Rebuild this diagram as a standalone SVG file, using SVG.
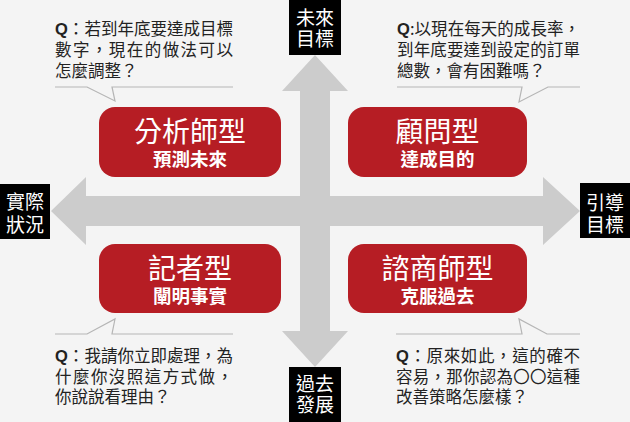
<svg xmlns="http://www.w3.org/2000/svg" width="630" height="422" viewBox="0 0 630 422">
<style>
.bg{fill:#f4f4f4}
.arr{fill:#cccccc}
.lbl{fill:#000}
.lt{fill:#fff;font-family:"Noto Sans CJK TC","Noto Sans CJK SC",sans-serif;font-size:19px;text-anchor:middle}
.box{fill:#b61d24}
.ttl{fill:#fff;font-family:"Noto Sans CJK TC","Noto Sans CJK SC",sans-serif;font-size:28px;text-anchor:middle}
.sub{fill:#fff;font-family:"Noto Sans CJK TC","Noto Sans CJK SC",sans-serif;font-size:18.5px;font-weight:bold;text-anchor:middle}
.q{fill:#222;font-family:"Noto Sans CJK TC","Noto Sans CJK SC",sans-serif;font-size:16.5px}
.qb{font-family:"Liberation Sans","Noto Sans CJK TC",sans-serif;font-weight:bold}
.tail{fill:none;stroke:#b5b5b5;stroke-width:1.2}
</style>
<rect class="bg" x="0" y="0" width="630" height="422"/>
<g id="connectors">
<path class="arr" d="M315,55 L348,91 L330,91 L330,331 L348,331 L315,367 L282,331 L300,331 L300,91 L282,91 Z"/>
<path class="arr" d="M51,211 L86,177 L86,196 L543,196 L543,177 L580,211 L543,245 L543,226 L86,226 L86,245 Z"/>
</g>
<g id="label-future">
<rect class="lbl" x="289" y="0" width="52" height="55"/>
<text class="lt" x="315" y="25">未來</text>
<text class="lt" x="315" y="46">目標</text>
</g>
<g id="label-past">
<rect class="lbl" x="289" y="367" width="52" height="55"/>
<text class="lt" x="315" y="391">過去</text>
<text class="lt" x="315" y="412">發展</text>
</g>
<g id="label-actual">
<rect class="lbl" x="0" y="184" width="50" height="55"/>
<text class="lt" x="25" y="209">實際</text>
<text class="lt" x="25" y="232">狀況</text>
</g>
<g id="label-guide">
<rect class="lbl" x="580" y="183" width="50" height="55"/>
<text class="lt" x="605" y="210">引導</text>
<text class="lt" x="605" y="232">目標</text>
</g>
<g id="node-analyst">
<rect class="box" x="99" y="107" width="182" height="70" rx="16"/>
<text class="ttl" x="190" y="142">分析師型</text>
<text class="sub" x="190" y="166">預測未來</text>
</g>
<g id="node-consultant">
<rect class="box" x="348" y="107" width="179" height="70" rx="16"/>
<text class="ttl" x="437.5" y="142">顧問型</text>
<text class="sub" x="437.5" y="166">達成目的</text>
</g>
<g id="node-reporter">
<rect class="box" x="99" y="244" width="182" height="69" rx="16"/>
<text class="ttl" x="190" y="279">記者型</text>
<text class="sub" x="190" y="303">闡明事實</text>
</g>
<g id="node-counselor">
<rect class="box" x="348" y="244" width="179" height="69" rx="16"/>
<text class="ttl" x="437.5" y="279">諮商師型</text>
<text class="sub" x="437.5" y="303">克服過去</text>
</g>
<g id="callout-tl">
<text class="q" x="55" y="35" textLength="178" lengthAdjust="spacing"><tspan class="qb">Q</tspan>：若到年底要達成目標</text>
<text class="q" x="55" y="56" textLength="178" lengthAdjust="spacing">數字，現在的做法可以</text>
<text class="q" x="55" y="77">怎麼調整？</text>
<path class="tail" d="M55,87 H87 L115,101 L112,87 H233"/>
</g>
<g id="callout-tr">
<text class="q" x="397" y="35" textLength="183" lengthAdjust="spacing"><tspan class="qb">Q</tspan>:以現在每天的成長率，</text>
<text class="q" x="397" y="56" textLength="183" lengthAdjust="spacing">到年底要達到設定的訂單</text>
<text class="q" x="397" y="77">總數，會有困難嗎？</text>
<path class="tail" d="M397,87 H522 L519,102 L548,87 H580"/>
</g>
<g id="callout-bl">
<path class="tail" d="M55,334 H87 L115,319 L112,334 H233"/>
<text class="q" x="55" y="362" textLength="178" lengthAdjust="spacing"><tspan class="qb">Q</tspan>：我請你立即處理，為</text>
<text class="q" x="55" y="383" textLength="178" lengthAdjust="spacing">什麼你沒照這方式做，</text>
<text class="q" x="55" y="403">你說說看理由？</text>
</g>
<g id="callout-br">
<path class="tail" d="M396,334 H522 L519,319 L547,334 H580"/>
<text class="q" x="396" y="362" textLength="184" lengthAdjust="spacing"><tspan class="qb">Q</tspan>：原來如此，這的確不</text>
<text class="q" x="396" y="383" textLength="184" lengthAdjust="spacing">容易，那你認為〇〇這種</text>
<text class="q" x="396" y="403">改善策略怎麼樣？</text>
</g>
</svg>
